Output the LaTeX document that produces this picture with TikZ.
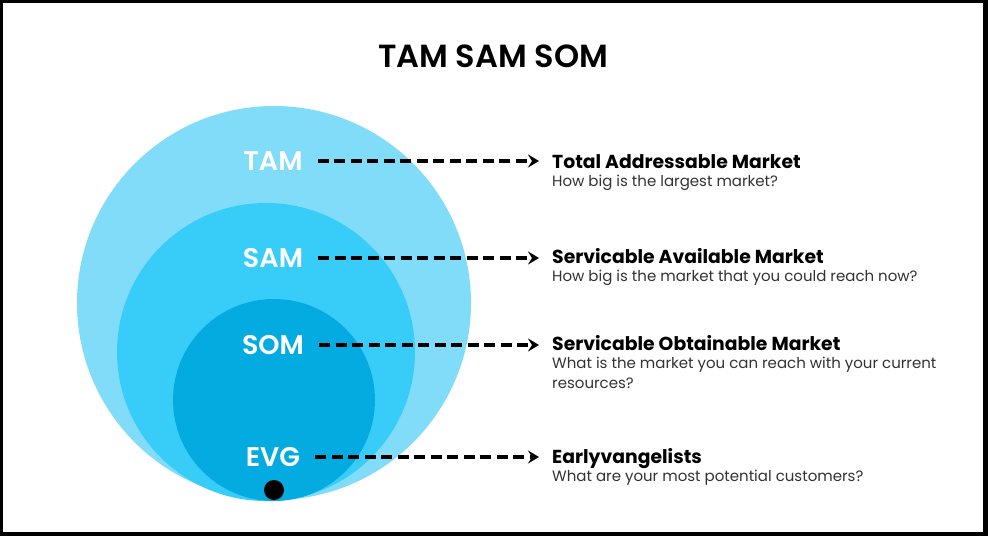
\documentclass[tikz,border=0pt]{standalone}
\usepackage{fontspec}
\setmainfont{Poppins}
\newfontfamily\semifont{Poppins SemiBold}
\usetikzlibrary{arrows.meta,positioning,calc}
\definecolor{tamblue}{HTML}{80DCF9}
\definecolor{samblue}{HTML}{38CDF9}
\definecolor{somblue}{HTML}{03ABE1}
\definecolor{subgray}{HTML}{333333}

\begin{document}
\begin{tikzpicture}[x=1pt, y=1pt,
    tag/.style={text=white, inner sep=3pt, font=\semifont\fontsize{27}{30}\selectfont},
    headtext/.style={anchor=base west, inner sep=0pt, text=black, font=\bfseries\fontsize{18.8}{22}\selectfont},
    subtext/.style={anchor=base west, inner sep=0pt, align=left, text=subgray, font=\fontsize{15}{19.5}\selectfont},
    arrow/.style={-{Stealth[length=11pt, width=13pt, inset=4pt]}, line width=3.5pt, dash pattern=on 11pt off 5.5pt, shorten <=12pt, shorten >=13pt}
]
    % frame
    \useasboundingbox (0,0) rectangle (988,536);
    \fill [black] (0,0) rectangle (988,536);
    \fill [white] (3,4) rectangle (983,533);

    \node [font=\semifont\fontsize{32}{36}\selectfont] (title) at (493,480) {TAM SAM SOM};

    % circles
    \fill [tamblue] (274,233) circle (197);
    \fill [samblue] (266,184) circle (149);
    \fill [somblue] (274,136) circle (101);
    \fill [black] (274,46) circle (10);

    \node [tag] (tam) at (273,375) {TAM};
    \node [tag] (sam) at (273,278) {SAM};
    \node [tag] (som) at (273,191) {SOM};
    \node [tag] (evg) at (273,79) {EVG};

    \node [headtext] (tamt) at (552,367) {Total Addressable Market};
    \node [subtext] (tams) at ([yshift=-18pt]tamt.base west) {How big is the largest market?};
    \node [headtext] (samt) at (552,272) {Servicable Available Market};
    \node [subtext] (sams) at ([yshift=-18pt]samt.base west) {How big is the market that you could reach now?};
    \node [headtext] (somt) at (552,185) {Servicable Obtainable Market};
    \node [subtext] (soms) at ([yshift=-37.5pt]somt.base west) {What is the market you can reach with your current\\resources?};
    \node [headtext] (evgt) at (552,73) {Earlyvangelists};
    \node [subtext] (evgs) at ([yshift=-18pt]evgt.base west) {What are your most potential customers?};

    \draw [arrow] (tam.east) -- (tamt.west |- tam.east);
    \draw [arrow] (sam.east) -- (samt.west |- sam.east);
    \draw [arrow] (som.east) -- (somt.west |- som.east);
    \draw [arrow] (evg.east) -- (evgt.west |- evg.east);
\end{tikzpicture}
\end{document}
